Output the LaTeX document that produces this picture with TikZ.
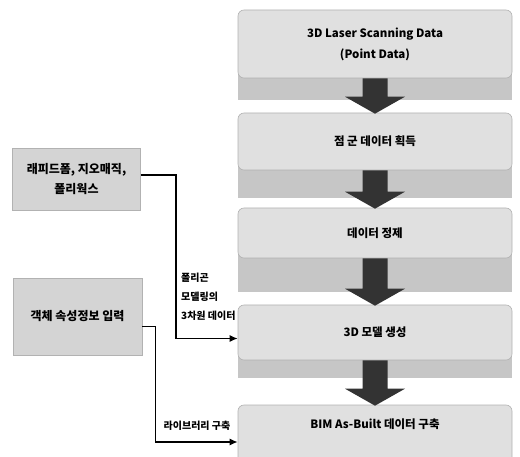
\documentclass[tikz,border=0pt]{standalone}
\usepackage{fontspec}
\setmainfont{Noto Sans CJK KR}
\usetikzlibrary{arrows.meta,calc}
\tikzset{
  rbox/.style={draw=gray!60, line width=0.6pt, fill=gray!24, rounded corners=6pt,
    minimum width=274pt, inner sep=2pt, align=center,
    font=\fontsize{11.5}{21}\selectfont\bfseries},
  lbox/.style={draw=gray!60, line width=0.6pt, fill=gray!34,
    inner sep=2pt, align=center, font=\fontsize{12}{20}\selectfont\bfseries},
  band/.style={fill=gray!45},
  bigarr/.style={fill=black!80},
  conn/.style={line width=1.4pt, -{Latex[length=8pt,width=7pt]}},
  lbl/.style={inner sep=0pt, align=left, font=\fontsize{10}{19}\selectfont\bfseries}
}
\newcommand{\bigarrow}[2]{%
  \fill[bigarr] ($(#1.south)+(-12.5,0)$) -- ($(#1.south)+(12.5,0)$)
    -- ($(#2.north)+(12.5,-16)$) -- ($(#2.north)+(30,-16)$)
    -- ($(#2.north)+(0,1)$) -- ($(#2.north)+(-30,-16)$)
    -- ($(#2.north)+(-12.5,-16)$) -- cycle;}
\begin{document}
\begin{tikzpicture}[x=1pt,y=-1pt]
\useasboundingbox (0,0) rectangle (520,457);
% shadow bands
\fill[band] (238,74) rectangle (512,100);
\fill[band] (238,166) rectangle (512,198);
\fill[band] (238,254) rectangle (512,292);
\fill[band] (238,356) rectangle (512,378);
% right boxes
\node[rbox, minimum height=68pt] (b1) at (375,44) {3D Laser Scanning Data\\(Point Data)};
\node[rbox, minimum height=57pt] (b2) at (375,141.5) {점 군 데이터 획득};
\node[rbox, minimum height=50pt] (b3) at (375,233) {데이터 정제};
\node[rbox, minimum height=55pt] (b4) at (375,332.5) {3D 모델 생성};
\node[rbox, minimum height=70pt] (b5box) at (375,440) {};
\node[inner sep=0pt, font=\fontsize{11.5}{16}\selectfont\bfseries] (b5) at (375,424) {BIM As-Built 데이터 구축};
% big arrows
\bigarrow{b1}{b2}
\bigarrow{b2}{b3}
\bigarrow{b3}{b4}
\bigarrow{b4}{b5box}
% left boxes
\node[lbox, minimum width=128pt, minimum height=62pt] (la) at (76.5,179) {래피드폼, 지오매직,\\폴리웍스};
\node[lbox, minimum width=129pt, minimum height=77pt] (lb) at (77.5,316.5) {객체 속성정보 입력};
% connectors
\draw[conn] ([yshift=4pt]la.east) -- ++(35,0) |- ([yshift=-6pt]b4.west);
\draw[conn] ([yshift=-10pt]lb.east) -- ++(13,0) |- ([yshift=-2pt]b5box.west);
% labels
\node[lbl, anchor=north west] (t1) at (181,273) {폴리곤\\모델링의\\3차원 데이터};
\node[lbl, anchor=south] (t2) at (197,431) {라이브러리 구축};
\end{tikzpicture}
\end{document}
